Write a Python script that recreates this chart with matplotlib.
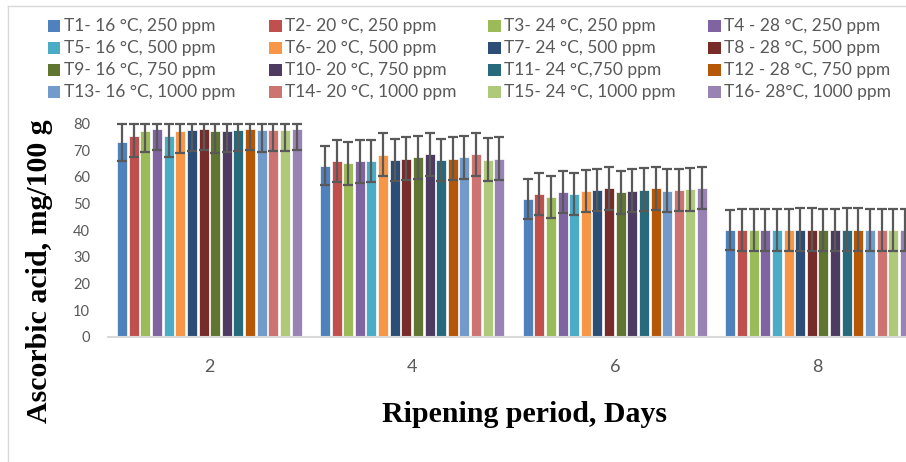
import numpy as np
import matplotlib
matplotlib.use('Agg')
import matplotlib.pyplot as plt
from matplotlib.patches import Rectangle
from matplotlib.lines import Line2D

days = ['2', '4', '6', '8']

labels = ['T1- 16 °C, 250 ppm', 'T2- 20 °C, 250 ppm', 'T3- 24 °C, 250 ppm', 'T4 - 28 °C, 250 ppm',
          'T5- 16 °C, 500 ppm', 'T6- 20 °C, 500 ppm', 'T7- 24 °C, 500 ppm', 'T8 - 28 °C, 500 ppm',
          'T9- 16 °C, 750 ppm', 'T10- 20 °C, 750 ppm', 'T11- 24 °C,750 ppm', 'T12 - 28 °C, 750 ppm',
          'T13- 16 °C, 1000 ppm', 'T14- 20 °C, 1000 ppm', 'T15- 24 °C, 1000 ppm', 'T16- 28°C, 1000 ppm']

colors = ['#4F81BD', '#C0504D', '#9BBB59', '#8064A2',
          '#4BACC6', '#F79646', '#2C4D75', '#772C2A',
          '#5F7530', '#4D3B62', '#276A7C', '#B65708',
          '#729ACA', '#CD7371', '#AFC97A', '#9983B5']

# ascorbic acid per treatment, columns = day 2, 4, 6, 8
day2 = [73.2, 75.3, 77.3, 77.9, 75.4, 77.1, 77.6, 77.9, 77.1, 77.2, 77.6, 77.9, 77.4, 77.6, 77.6, 78.0]
day4 = [64.2, 66.0, 65.1, 65.8, 65.9, 68.3, 66.3, 66.8, 67.3, 68.4, 66.3, 66.8, 67.3, 68.4, 66.4, 66.8]
day6 = [51.7, 53.7, 52.4, 54.3, 53.5, 54.7, 55.0, 55.7, 54.2, 54.8, 55.2, 55.7, 54.8, 55.0, 55.3, 55.8]
day8 = [40.0, 40.0, 40.1, 40.1, 40.0, 40.1, 40.2, 40.2, 40.1, 40.0, 40.2, 40.2, 40.0, 40.1, 40.1, 40.0]
errors = [7.4, 7.9, 8.0, 8.0, 7.9, 8.0, 8.0, 8.0, 8.0, 8.0, 8.0, 8.0, 8.0, 8.0, 8.0, 8.0]

values = np.array([day2, day4, day6, day8]).T

W, H = 906, 462
fig = plt.figure(figsize=(W / 100, H / 100), dpi=100)
ax = fig.add_axes([108 / W, (H - 336.7) / H, (919 - 108) / W, (336.7 - 123.5) / H])

x = np.arange(len(days))
slot = 0.0573
width = 0.0493
ymax = 80

for i in range(len(labels)):
    pos = x + (i - 7.5) * slot
    vals = values[i]
    ax.bar(pos, vals, width=width, color=colors[i], edgecolor='white', linewidth=0.5, zorder=2)
    upper = np.minimum(vals + errors[i], ymax) - vals
    lower = np.full(len(vals), errors[i])
    eb = ax.errorbar(pos, vals, yerr=[lower, upper], fmt='none', ecolor='#595959',
                     elinewidth=1.6, capsize=3.6, capthick=1.6, zorder=3)
    for art in eb.lines[1]:
        art.set_clip_on(False)

ax.set_xlim(-0.5, 3.5)
ax.set_ylim(0, ymax)
ax.set_yticks(np.arange(0, 81, 10))
ax.set_xticks(x)
ax.set_xticklabels(days)
ax.tick_params(axis='both', length=0, colors='#595959')
ax.tick_params(axis='y', labelsize=10.5, pad=13)
ax.tick_params(axis='x', labelsize=13, pad=16)
for lab in ax.get_xticklabels() + ax.get_yticklabels():
    lab.set_family('Lato')
for s in ['top', 'right', 'left']:
    ax.spines[s].set_visible(False)
ax.spines['bottom'].set_color('#D9D9D9')
ax.spines['bottom'].set_linewidth(1.5)

fig.text(40 / W, 1 - 271 / H, 'Ascorbic acid, mg/100 g', rotation=90, ha='center', va='center',
         family='Liberation Serif', fontweight='bold', fontsize=21.5)
fig.text(525 / W, 1 - 414 / H, 'Ripening period, Days', ha='center', va='center',
         family='Liberation Serif', fontweight='bold', fontsize=21.5)

# legend, filled row by row like the original
col_x = [48, 269, 488, 708]
row_y = [26, 48, 70, 92]
sq = 12.5
for i, lab in enumerate(labels):
    cx = col_x[i % 4]
    cy = row_y[i // 4]
    fig.patches.append(Rectangle((cx / W, 1 - (cy + sq / 2) / H), sq / W, sq / H,
                                 transform=fig.transFigure, facecolor=colors[i], edgecolor='none'))
    fig.text((cx + 16) / W, 1 - cy / H, lab, ha='left', va='center', family='Lato',
             fontsize=12.5, color='#595959')

# chart frame
fig.add_artist(Line2D([8 / W, 8 / W], [0, 1 - 6 / H], transform=fig.transFigure, color='#D9D9D9', lw=1))
fig.add_artist(Line2D([8 / W, 1], [1 - 6 / H, 1 - 6 / H], transform=fig.transFigure, color='#D9D9D9', lw=1))

fig.savefig('out.png', dpi=100)
